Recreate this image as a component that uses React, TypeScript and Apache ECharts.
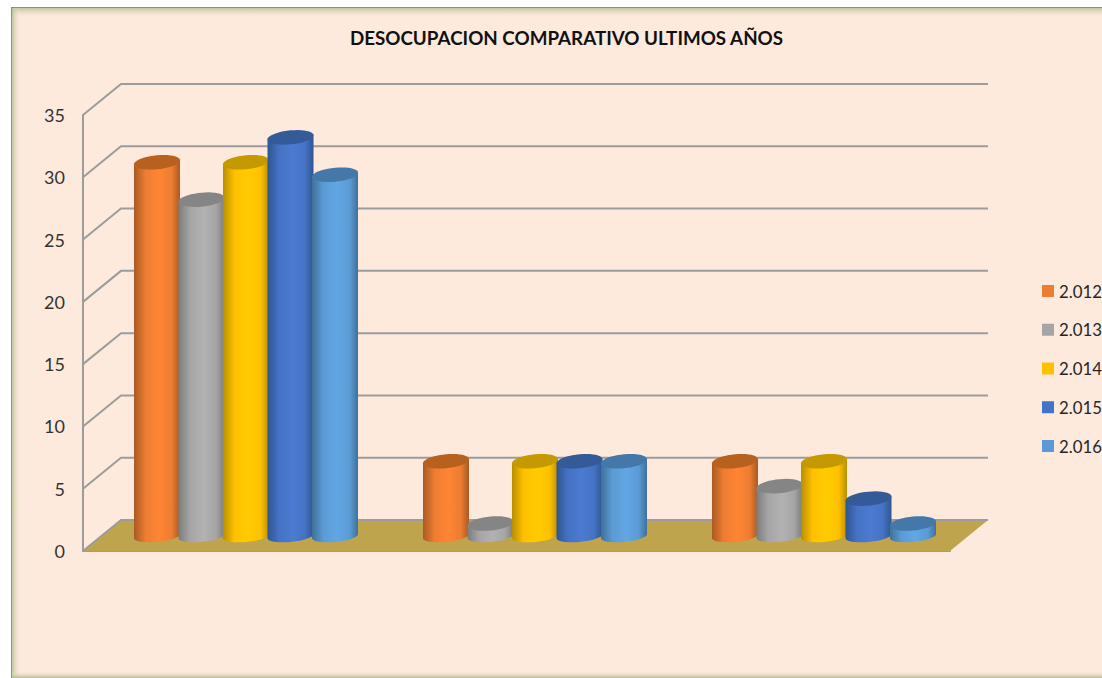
import React, { useEffect, useRef } from "react";
import * as echarts from "echarts";

const categories = ["Grupo 1", "Grupo 2", "Grupo 3"];
const years = ["2.012", "2.013", "2.014", "2.015", "2.016"];
const values2012 = [30, 6, 6];
const values2013 = [27, 1, 4];
const values2014 = [30, 6, 6];
const values2015 = [32, 6, 3];
const values2016 = [29, 6, 1];
const seriesValues = [values2012, values2013, values2014, values2015, values2016];
const axisTicks = [0, 5, 10, 15, 20, 25, 30, 35];

const legendColors = ["#ED7D31", "#A5A5A5", "#FFC000", "#4472C4", "#5B9BD5"];
const brightColors = ["#FF8533", "#B2B2B2", "#FFCC00", "#4B7BD2", "#62A6E4"];
const edgeColors = ["#A85A24", "#7C7C7C", "#B88F00", "#30558F", "#3F7199"];
const topColors = ["#B8611F", "#858585", "#C49A00", "#345A98", "#4478A8"];

const DEPTH_X = 38;
const DEPTH_Y = 31;
const BAR_STEP = 44.5;
const BAR_R = 23;
const BAR_RY = 7;
const SHEAR = 0.09;
const BAR_DX = 18.5;
const BAR_DY = 15;

function ellipseArc(cx: number, cy: number, from: number, to: number, ry: number) {
  const pts: number[][] = [];
  const n = 40;
  for (let k = 0; k <= n; k++) {
    const t = from + ((to - from) * k) / n;
    const dx = BAR_R * Math.cos(t);
    pts.push([cx + dx, cy + ry * Math.sin(t) - SHEAR * dx]);
  }
  return pts;
}

function cylinder(idx: number) {
  return (_p: any, api: any) => {
    const cat = api.value(0);
    const val = api.value(1);
    const zero = api.coord([cat, 0]);
    const head = api.coord([cat, val]);
    const cx = zero[0] + (idx - 2) * BAR_STEP + BAR_DX;
    const base = zero[1] - BAR_DY;
    const top = head[1] - BAR_DY;
    const tiltY = SHEAR * BAR_R;
    const body = [
      [cx + BAR_R, top - tiltY],
      ...ellipseArc(cx, base, 0, Math.PI, 6),
      [cx - BAR_R, top + tiltY],
    ];
    return {
      type: "group",
      children: [
        {
          type: "polygon",
          shape: { points: body },
          style: {
            fill: {
              type: "linear",
              x: 0,
              y: 0,
              x2: 1,
              y2: 0,
              colorStops: [
                { offset: 0, color: edgeColors[idx] },
                { offset: 0.25, color: legendColors[idx] },
                { offset: 0.55, color: brightColors[idx] },
                { offset: 0.82, color: legendColors[idx] },
                { offset: 1, color: edgeColors[idx] },
              ],
            },
          },
        },
        {
          type: "polygon",
          shape: { points: ellipseArc(cx, top, 0, Math.PI * 2, BAR_RY) },
          style: { fill: topColors[idx] },
        },
      ],
    };
  };
}

export default function App() {
  const ref = useRef<HTMLDivElement>(null);
  useEffect(() => {
    document.body.style.margin = "0";
    document.body.style.background = "#fff";
    const chart = echarts.init(ref.current!, undefined, { renderer: "svg" });
    const strip = (x: number, y: number, w: number, h: number, gx: number, gy: number) => ({
      type: "rect",
      z: -5,
      shape: { x, y, width: w, height: h },
      style: {
        fill: {
          type: "linear",
          x: gx < 0 ? 1 : 0,
          y: gy < 0 ? 1 : 0,
          x2: gx < 0 ? 0 : gx,
          y2: gy < 0 ? 0 : gy,
          colorStops: [
            { offset: 0, color: "rgba(176,186,140,0.95)" },
            { offset: 1, color: "rgba(253,234,219,0)" },
          ],
        },
      },
    });
    chart.setOption({
      animation: false,
      backgroundColor: "#ffffff",
      textStyle: { fontFamily: "Lato" },
      title: {
        text: "DESOCUPACION COMPARATIVO ULTIMOS AÑOS",
        left: 561.5,
        top: 23,
        textAlign: "center",
        textStyle: { fontFamily: "Lato", fontSize: 18.8, fontWeight: "bold", color: "#111111" },
      },
      graphic: [
        { type: "rect", z: -10, shape: { x: 11, y: 7, width: 1091, height: 671 }, style: { fill: "#FDEADC" } },
        strip(11, 7, 1091, 11, 0, 1),
        strip(11, 7, 10, 671, 1, 0),
        strip(11, 671, 1091, 7, 0, -1),
        { type: "rect", z: -4, shape: { x: 11, y: 7, width: 1091, height: 1 }, style: { fill: "#8C8C8C" } },
        { type: "rect", z: -4, shape: { x: 11, y: 7, width: 1, height: 671 }, style: { fill: "#8C9578" } },
      ],
      legend: {
        data: years,
        orient: "vertical",
        left: 1042,
        top: 281,
        padding: 0,
        icon: "rect",
        itemWidth: 12,
        itemHeight: 12,
        itemGap: 18.75,
        selectedMode: false,
        textStyle: { fontFamily: "Lato", fontSize: 16.8, color: "#262626", lineHeight: 20 },
      },
      grid: { left: 83, top: 115, width: 867, height: 436 },
      xAxis: {
        type: "category",
        data: categories,
        axisLine: { show: true, lineStyle: { color: "#9C9C9C", width: 2 } },
        axisTick: { show: false },
        axisLabel: { show: false },
      },
      yAxis: {
        type: "value",
        min: 0,
        max: 35,
        interval: 5,
        splitLine: { show: false },
        axisTick: { show: false },
        axisLine: { show: true, lineStyle: { color: "#9C9C9C", width: 2 } },
        axisLabel: { fontFamily: "Lato", fontSize: 18, color: "#333333", margin: 18, padding: [4, 0, 0, 0] },
      },
      series: [
        {
          type: "custom",
          silent: true,
          clip: false,
          data: [[0, 0]],
          renderItem: (p: any, api: any) => {
            const y = api.coord([0, 0])[1];
            const l = p.coordSys.x;
            const r = l + p.coordSys.width;
            return {
              type: "polygon",
              shape: {
                points: [
                  [l, y],
                  [l + DEPTH_X, y - DEPTH_Y],
                  [r + DEPTH_X, y - DEPTH_Y],
                  [r, y],
                ],
              },
              style: { fill: "#BFA44E" },
            };
          },
        },
        {
          type: "custom",
          silent: true,
          clip: false,
          data: axisTicks.map((v) => [0, v]),
          renderItem: (p: any, api: any) => {
            const y = api.coord([0, api.value(1)])[1];
            const l = p.coordSys.x;
            const r = l + p.coordSys.width;
            return {
              type: "polyline",
              shape: {
                points: [
                  [l, y],
                  [l + DEPTH_X, y - DEPTH_Y],
                  [r + DEPTH_X, y - DEPTH_Y],
                ],
              },
              style: { stroke: "#9C9C9C", lineWidth: 2, fill: "none" },
            };
          },
        },
        ...years.map((name, idx) => ({
          type: "custom",
          name,
          silent: true,
          clip: false,
          itemStyle: { color: legendColors[idx] },
          data: seriesValues[idx].map((v, c) => [c, v]),
          encode: { x: 0, y: 1 },
          renderItem: cylinder(idx),
        })),
      ],
    });
    return () => chart.dispose();
  }, []);
  return <div ref={ref} style={{ width: 1102, height: 678 }} />;
}
